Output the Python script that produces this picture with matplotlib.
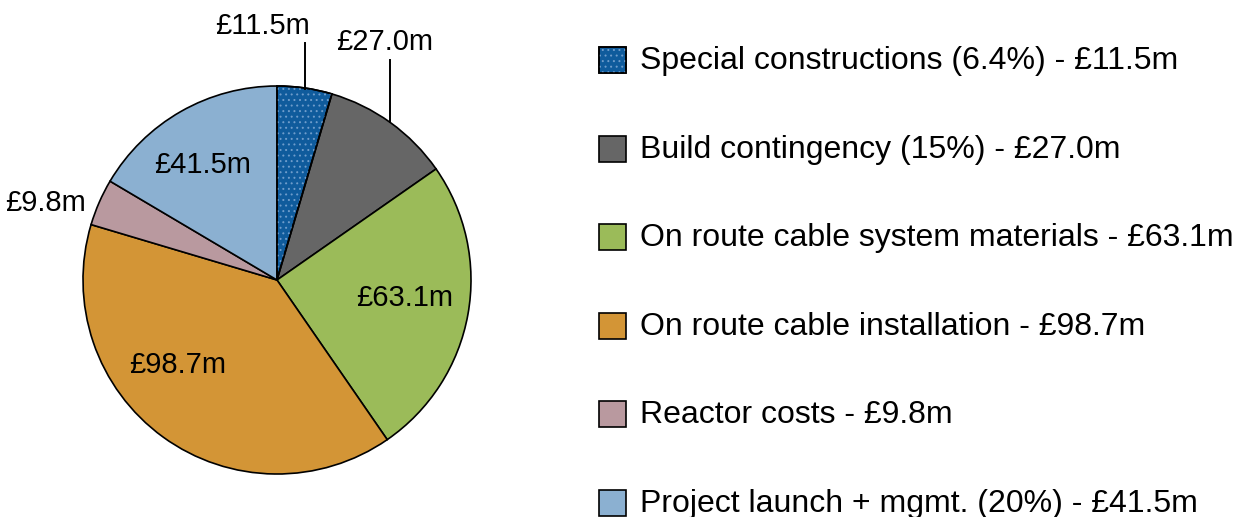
import matplotlib
matplotlib.use("Agg")
import matplotlib.pyplot as plt
from matplotlib.patches import Wedge, Rectangle

plt.rcParams["font.family"] = ["Liberation Sans", "DejaVu Sans"]
plt.rcParams["hatch.linewidth"] = 0.7

# Cost breakdown (£m)
categories = [
    "Special constructions (6.4%)",
    "Build contingency (15%)",
    "On route cable system materials",
    "On route cable installation",
    "Reactor costs",
    "Project launch + mgmt. (20%)",
]
values = [11.5, 27.0, 63.1, 98.7, 9.8, 41.5]
colors = ["#0F5B9C", "#666666", "#9BBB59", "#D39536", "#B9999F", "#8BB0D1"]

W, H = 1236, 517
fig = plt.figure(figsize=(W / 100, H / 100), dpi=100)

# pie axes: centre at (277, 280) px, 200 px half-width
cx, cy, half = 277, 280, 200
ax = fig.add_axes([(cx - half) / W, (H - cy - half) / H, 2 * half / W, 2 * half / H])

wedges, _ = ax.pie(values, colors=colors, startangle=90, counterclock=False,
                   radius=0.97, center=(0, 0),
                   wedgeprops=dict(edgecolor="black", linewidth=1.2))
ax.set_xlim(-1, 1)
ax.set_ylim(-1, 1)
ax.set_aspect("equal")
ax.axis("off")

# dotted texture on the first slice
w0 = wedges[0]
ax.add_patch(Wedge(w0.center, w0.r, w0.theta1, w0.theta2, facecolor="none",
                   edgecolor="#6E9CCB", hatch="...", linewidth=0))
ax.add_patch(Wedge(w0.center, w0.r, w0.theta1, w0.theta2, facecolor="none",
                   edgecolor="black", linewidth=1.2))

def money(v):
    return f"£{v:.1f}m"

# label placement (data coords) and optional leader lines
label_pos = [(-0.075, 1.27), (0.54, 1.19), (0.64, -0.09),
             (-0.495, -0.425), (-1.16, 0.385), (-0.37, 0.575)]
leaders = {0: ((0.14, 1.185), (0.14, 0.955)),
           1: ((0.565, 1.10), (0.565, 0.79))}
for i, v in enumerate(values):
    x, y = label_pos[i]
    ax.text(x, y, money(v), ha="center", va="center", fontsize=21,
            color="black", clip_on=False)
    if i in leaders:
        (x0, y0), (x1, y1) = leaders[i]
        ax.plot([x0, x1], [y0, y1], color="black", lw=1.4, clip_on=False)

# legend drawn row by row in pixel positions
row0_top, row_step = 47, 88.6
for i, (cat, v) in enumerate(zip(categories, values)):
    top = row0_top + i * row_step
    box = ((599 / W, 1 - (top + 26) / H), 27 / W, 26 / H)
    fig.add_artist(Rectangle(*box, transform=fig.transFigure,
                             facecolor=colors[i], edgecolor="black", linewidth=1.2))
    if i == 0:
        fig.add_artist(Rectangle(*box, transform=fig.transFigure, facecolor="none",
                                 edgecolor="#6E9CCB", hatch="...", linewidth=0))
        fig.add_artist(Rectangle(*box, transform=fig.transFigure, facecolor="none",
                                 edgecolor="black", linewidth=1.2))
    fig.text(640 / W, 1 - (top + 22) / H, f"{cat} - {money(v)}",
             ha="left", va="baseline", fontsize=23, color="black")

fig.savefig("out.png", dpi=100)
